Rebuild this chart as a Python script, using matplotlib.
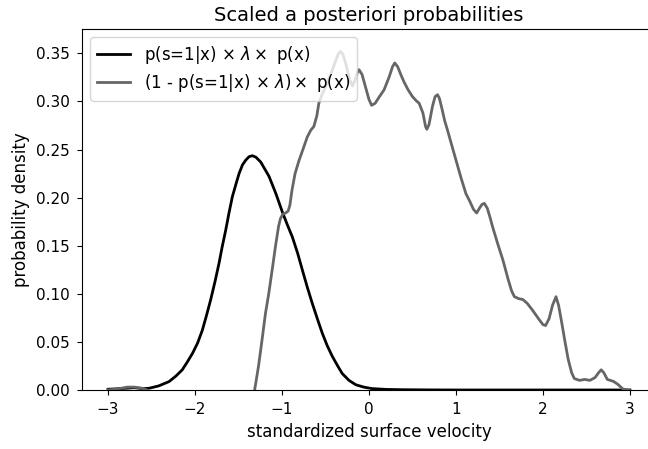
import matplotlib
matplotlib.use("Agg")
import matplotlib.pyplot as plt
import numpy as np

# Scaled posterior density for the positive class: p(s=1|x) * lambda * p(x)
x_pos = [-3.0, -2.9, -2.8, -2.7, -2.6, -2.529, -2.42, -2.30, -2.22, -2.147, -2.09,
         -2.03, -1.97, -1.917, -1.87, -1.82, -1.77, -1.724, -1.69, -1.648, -1.61,
         -1.571, -1.53, -1.494, -1.455, -1.417, -1.38, -1.341, -1.30, -1.245, -1.20,
         -1.149, -1.07, -0.996, -0.94, -0.881, -0.82, -0.767, -0.71, -0.652, -0.59,
         -0.537, -0.48, -0.422, -0.36, -0.307, -0.23, -0.153, -0.06, 0.03, 0.2,
         0.4, 0.7, 1.0, 1.5, 2.0, 2.5, 3.0]
y_pos = [0.0008, 0.0012, 0.0018, 0.0024, 0.0014, 0.0018, 0.0042, 0.0087, 0.0145, 0.021, 0.029,
         0.038, 0.049, 0.062, 0.077, 0.094, 0.113, 0.132, 0.148, 0.166, 0.184,
         0.201, 0.214, 0.225, 0.234, 0.239, 0.2425, 0.2436, 0.242, 0.237, 0.230,
         0.222, 0.204, 0.185, 0.172, 0.159, 0.142, 0.125, 0.107, 0.090, 0.073,
         0.059, 0.046, 0.035, 0.025, 0.017, 0.010, 0.0055, 0.003, 0.0015, 0.0006,
         0.0003, 0.0001, 0.0, 0.0, 0.0, 0.0, 0.0]

# Remaining density: (1 - p(s=1|x) * lambda) * p(x), negative part falls below the axis
x_neg = [-3.0, -2.9, -2.78, -2.7, -2.62, -2.55, -2.45, -2.2, -1.9, -1.7, -1.5,
         -1.4, -1.315, -1.27, -1.23, -1.19, -1.153, -1.11, -1.076, -1.04, -1.019,
         -0.99, -0.96, -0.93, -0.91, -0.885, -0.85, -0.807, -0.76, -0.71, -0.67,
         -0.634, -0.6, -0.577, -0.54, -0.5, -0.46, -0.42, -0.38, -0.35, -0.327,
         -0.30, -0.27, -0.25, -0.22, -0.19, -0.16, -0.13, -0.115, -0.08, -0.04,
         0.0, 0.03, 0.07, 0.12, 0.173, 0.23, 0.27, 0.296, 0.33, 0.37,
         0.404, 0.45, 0.5, 0.54, 0.577, 0.62, 0.65, 0.665, 0.69, 0.73,
         0.76, 0.788, 0.81, 0.84, 0.87, 0.903, 0.95, 1.0, 1.06, 1.115,
         1.16, 1.2, 1.238, 1.27, 1.30, 1.326, 1.36, 1.39, 1.42, 1.48,
         1.54, 1.6, 1.64, 1.672, 1.72, 1.77, 1.82, 1.88, 1.95, 2.0,
         2.03, 2.07, 2.11, 2.15, 2.18, 2.22, 2.25, 2.29, 2.33, 2.36,
         2.42, 2.48, 2.54, 2.6, 2.64, 2.67, 2.70, 2.74, 2.81, 2.86,
         2.92, 2.99]
y_neg = [0.0, 0.001, 0.003, 0.003, 0.002, 0.0, -0.01, -0.05, -0.09, -0.10, -0.08,
         -0.05, 0.0, 0.025, 0.052, 0.080, 0.100, 0.127, 0.149, 0.170, 0.178,
         0.183, 0.184, 0.186, 0.192, 0.208, 0.225, 0.238, 0.250, 0.263, 0.270,
         0.274, 0.285, 0.298, 0.307, 0.315, 0.324, 0.333, 0.343, 0.350, 0.352,
         0.349, 0.340, 0.333, 0.322, 0.316, 0.322, 0.331, 0.333, 0.328, 0.315,
         0.302, 0.296, 0.298, 0.305, 0.312, 0.325, 0.336, 0.340, 0.336, 0.327,
         0.320, 0.312, 0.305, 0.301, 0.298, 0.288, 0.274, 0.271, 0.276, 0.295,
         0.305, 0.307, 0.303, 0.292, 0.280, 0.270, 0.255, 0.239, 0.220, 0.204,
         0.196, 0.188, 0.184, 0.189, 0.193, 0.194, 0.189, 0.180, 0.170, 0.152,
         0.135, 0.115, 0.103, 0.097, 0.095, 0.094, 0.090, 0.083, 0.074, 0.068,
         0.067, 0.074, 0.088, 0.097, 0.088, 0.068, 0.052, 0.032, 0.018, 0.012,
         0.010, 0.011, 0.010, 0.013, 0.018, 0.021, 0.018, 0.011, 0.009, 0.006,
         0.001, 0.0]

fig = plt.figure(figsize=(6.48, 4.49), dpi=100)
ax = fig.add_axes([82 / 648, 59 / 449, 574 / 648, 361 / 449])

ax.plot(x_pos, y_pos, color='black', linewidth=2,
        label=r'p(s=1|x) $\times$ $\lambda \times$ p(x)')
ax.plot(x_neg, y_neg, color='#666666', linewidth=2,
        label=r'(1 - p(s=1|x) $\times$ $\lambda) \times$ p(x)')

ax.set_xlim(-3.3, 3.3)
ax.set_ylim(0, 0.3753)
ax.set_xticks(np.arange(-3, 4, 1))
ax.set_yticks(np.arange(0, 0.36, 0.05))
ax.tick_params(labelsize=11, length=3.8, pad=5)

ax.set_title('Scaled a posteriori probabilities', fontsize=14)
ax.set_xlabel('standardized surface velocity', fontsize=12)
ax.set_ylabel('probability density', fontsize=12)
ax.legend(loc='upper left', fontsize=12, labelspacing=0.35)

fig.savefig('out.png', dpi=100)
